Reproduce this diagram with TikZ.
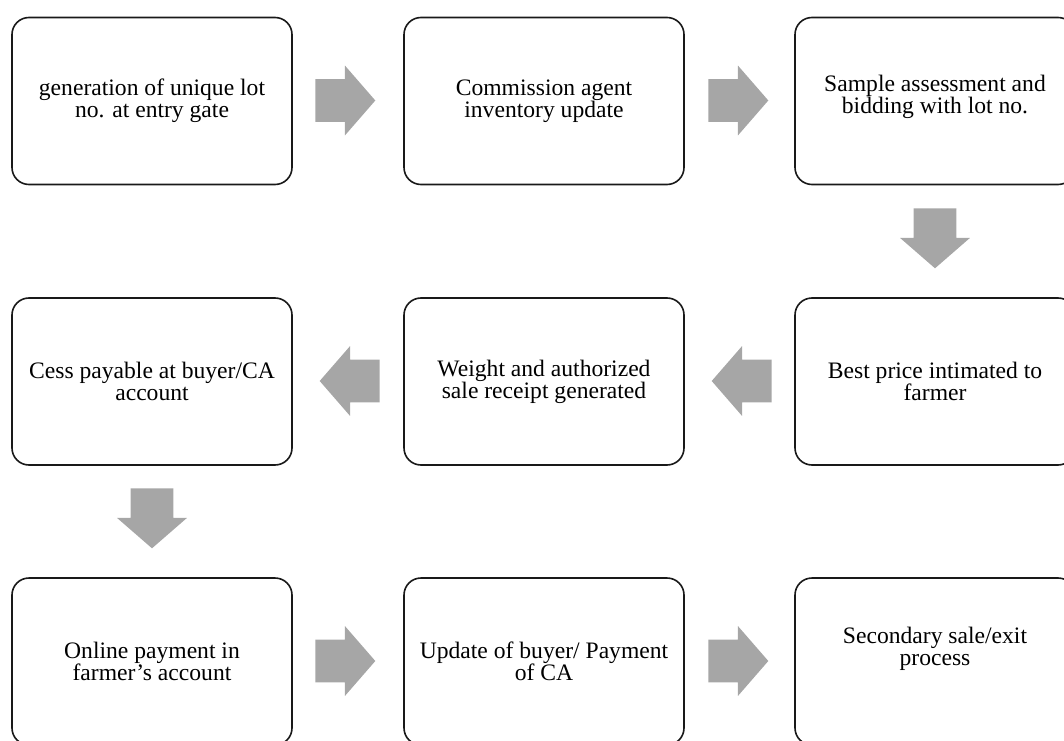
\documentclass[tikz,border=0pt]{standalone}
\usepackage{fontspec}
\setmainfont{Liberation Serif}
\usetikzlibrary{shapes.arrows}
\definecolor{arrowgray}{HTML}{A6A6A6}
\tikzset{
  stagebox/.style={draw=black!90, line width=0.8pt, rounded corners=8.5pt,
    minimum width=140pt, minimum height=83.5pt, inner sep=0pt, align=center,
    font=\fontsize{11.8}{11}\selectfont},
  blockarrow/.style={single arrow, fill=arrowgray, draw=none, inner xsep=0pt,
    inner ysep=10.5pt, minimum height=30pt, single arrow head extend=6.75pt,
    single arrow tip angle=98, single arrow head indent=0pt}
}
\begin{document}
\begin{tikzpicture}[x=0.5pt,y=0.5pt]
\useasboundingbox (0,0) rectangle (1064,740);
\node[stagebox] (gate) at (152,639) {generation of unique lot\\no. at entry gate};
\node[stagebox] (inventory) at (544,639) {Commission agent\\inventory update};
\node[stagebox] (bidding) at (935,639) {Sample assessment and\\bidding with lot no.\\[-4pt]};
\node[stagebox] (price) at (935,358.5) {Best price intimated to\\farmer};
\node[stagebox] (receipt) at (544,358.5) {Weight and authorized\\sale receipt generated};
\node[stagebox] (cess) at (152,358.5) {Cess payable at buyer/CA\\account};
\node[stagebox] (payment) at (152,78.5) {Online payment in\\farmer’s account};
\node[stagebox] (update) at (544,78.5) {Update of buyer/ Payment\\of CA};
\node[stagebox] (exit) at (935,78.5) {Secondary sale/exit\\process\\[4pt]};
\node[blockarrow] (toinventory) at (336,639.5) {};
\node[blockarrow] (tobidding) at (729,639.5) {};
\node[blockarrow, rotate=-90] (toprice) at (935,511) {};
\node[blockarrow, rotate=180] (toreceipt) at (751,359) {};
\node[blockarrow, rotate=180] (tocess) at (359,359) {};
\node[blockarrow, rotate=-90] (topayment) at (152,231) {};
\node[blockarrow] (toupdate) at (336,79) {};
\node[blockarrow] (toexit) at (729,79) {};
\end{tikzpicture}
\end{document}
